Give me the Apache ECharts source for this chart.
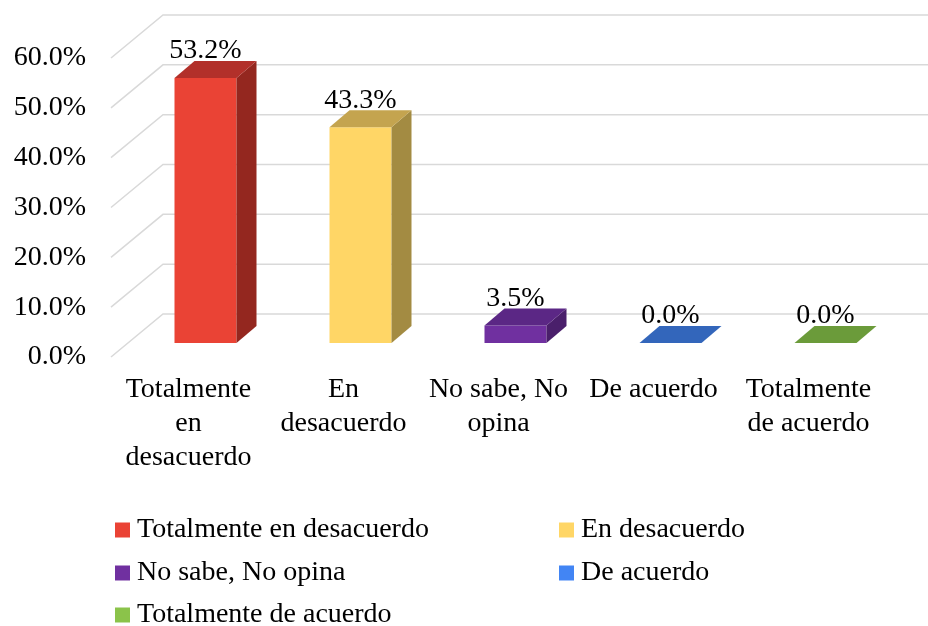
<!DOCTYPE html>
<html>
<head>
<meta charset="utf-8">
<script src="https://cdn.jsdelivr.net/npm/echarts@6/dist/echarts.min.js"></script>
<style>
    html, body { margin: 0; padding: 0; background: #fff; }
    #chart { width: 928px; height: 626px; }
</style>
</head>
<body>
<div id="chart"></div>
<script>
    // datos
    var categories = ['Totalmente en desacuerdo', 'En desacuerdo', 'No sabe, No opina', 'De acuerdo', 'Totalmente de acuerdo'];
    var axisLabels = ['Totalmente\nen\ndesacuerdo', 'En\ndesacuerdo', 'No sabe, No\nopina', 'De acuerdo', 'Totalmente\nde acuerdo'];
    var percentages = [53.2, 43.3, 3.5, 0.0, 0.0];
    var yTicks = [0, 10, 20, 30, 40, 50, 60];

    // colores (cara frontal / lateral / superior)
    var frontColors = ['#EA4335', '#FFD666', '#7030A0', '#4285F4', '#8BC34A'];
    var sideColors = ['#94271F', '#A38B42', '#4A1F6B', '#2B559E', '#587F30'];
    var topColors = ['#B2302A', '#C4A44F', '#5B2785', '#3366BB', '#6B9B3A'];

    var font = "'Liberation Serif', 'Times New Roman', serif";
    var wall = [52, -43];   // desplazamiento hasta la pared del fondo
    var barOff = [17, -14]; // cara frontal de la barra
    var depth = [20, -17];  // profundidad de la barra
    // posicion de cada entrada de la leyenda (2 columnas)
    var legendPos = [[115, 516], [559, 516], [115, 559], [559, 559], [115, 601]];

    var myChart = echarts.init(document.getElementById('chart'));

    function renderGrid(params, api) {
        var p = api.coord([0, api.value(1)]);
        var x0 = params.coordSys.x;
        var xEnd = x0 + params.coordSys.width + wall[0];
        return {
            type: 'polyline',
            shape: { points: [[x0, p[1]], [x0 + wall[0], p[1] + wall[1]], [xEnd, p[1] + wall[1]]] },
            style: { stroke: '#D9D9D9', lineWidth: 1.5, fill: null }
        };
    }

    function makeRender(i) {
        return function (params, api) {
            var base = api.coord([api.value(0), 0]);
            var top = api.coord([api.value(0), api.value(1)]);
            var w = api.size([1, 0])[0] * 0.4;
            var xl = base[0] + barOff[0] - w / 2;
            var xr = xl + w;
            var yb = base[1] + barOff[1];
            var yt = top[1] + barOff[1];
            return {
                type: 'group',
                children: [
                    {
                        type: 'rect',
                        shape: { x: xl, y: yt, width: w, height: yb - yt },
                        style: { fill: frontColors[i] }
                    },
                    {
                        type: 'polygon',
                        shape: { points: [[xr, yt], [xr + depth[0], yt + depth[1]], [xr + depth[0], yb + depth[1]], [xr, yb]] },
                        style: { fill: sideColors[i] }
                    },
                    {
                        type: 'polygon',
                        shape: { points: [[xl, yt], [xl + depth[0], yt + depth[1]], [xr + depth[0], yt + depth[1]], [xr, yt]] },
                        style: { fill: topColors[i] }
                    },
                    {
                        type: 'text',
                        style: {
                            x: (xl + xr) / 2,
                            y: yt + depth[1] - 10,
                            text: api.value(1).toFixed(1) + '%',
                            align: 'center',
                            verticalAlign: 'middle',
                            fill: '#000',
                            font: '28px ' + font
                        }
                    }
                ]
            };
        };
    }

    var seriesData = [{
        type: 'custom',
        silent: true,
        z: 1,
        renderItem: renderGrid,
        data: yTicks.map(function (v) { return [0, v]; })
    }];
    categories.forEach(function (name, i) {
        seriesData.push({
            name: name,
            type: 'custom',
            z: 2,
            itemStyle: { color: frontColors[i] },
            renderItem: makeRender(i),
            data: [[i, percentages[i]]]
        });
    });

    var legends = categories.map(function (name, i) {
        return {
            left: legendPos[i][0],
            top: legendPos[i][1],
            padding: 0,
            icon: 'rect',
            itemWidth: 15,
            itemHeight: 15,
            textStyle: { fontFamily: font, fontSize: 28, color: '#000', lineHeight: 24, padding: [0, 0, 0, 2] },
            data: [name]
        };
    });

    var option = {
        backgroundColor: '#fff',
        animation: false,
        grid: { left: 111, right: 42, top: 58, bottom: 269 },
        legend: legends,
        xAxis: {
            type: 'category',
            data: axisLabels,
            axisLine: { show: false },
            axisTick: { show: false },
            axisLabel: {
                margin: 16,
                interval: 0,
                fontFamily: font,
                fontSize: 28,
                lineHeight: 34,
                color: '#000'
            }
        },
        yAxis: {
            type: 'value',
            min: 0,
            max: 60,
            interval: 10,
            axisLine: { show: false },
            axisTick: { show: false },
            splitLine: { show: false },
            axisLabel: {
                margin: 25,
                fontFamily: font,
                fontSize: 28,
                color: '#000',
                formatter: function (v) { return v.toFixed(1) + '%'; }
            }
        },
        series: seriesData
    };
    myChart.setOption(option, true);
</script>
</body>
</html>
